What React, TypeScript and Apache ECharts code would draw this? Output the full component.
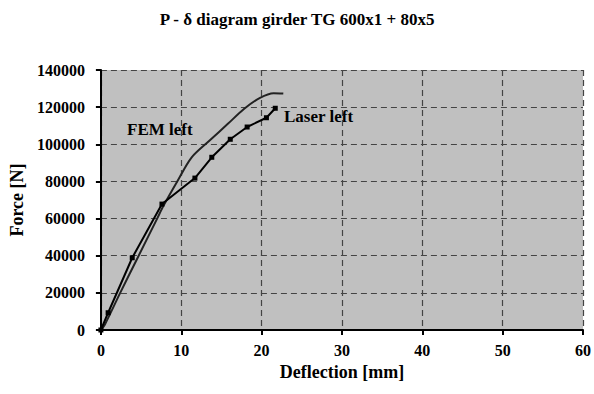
import React, { useEffect, useRef } from "react";
import * as echarts from "echarts";

const titleText = "P - \u03b4 diagram girder TG 600x1 + 80x5";
const xAxisName = "Deflection [mm]";
const yAxisName = "Force [N]";

const laserX = [0, 0.9, 3.9, 7.6, 11.7, 13.8, 16.1, 18.2, 20.6, 21.7];
const laserY = [0, 9300, 38900, 67800, 81800, 93000, 102700, 109300, 114300, 119400];

const femX = [0, 0.5, 2.4, 4.7, 7.0, 7.8, 9.5, 11.3, 13.6, 15.8, 17.8, 19.8, 21.5, 22.7];
const femY = [0, 3000, 20000, 40000, 60000, 67000, 80000, 93000, 102300, 111000, 119000, 125000, 127500, 127300];

const FONT = "'Liberation Serif', 'Times New Roman', serif";

export default function App() {
  const ref = useRef<HTMLDivElement>(null);
  useEffect(() => {
    const chart = echarts.init(ref.current!, null, { renderer: "svg" });
    const labelStyle = { fontFamily: FONT, fontWeight: "bold", fontSize: 16, color: "#000" };
    const nameStyle = { ...labelStyle, fontSize: 18 };
    chart.setOption({
      animation: false,
      backgroundColor: "#fff",
      title: {
        text: titleText,
        left: "center",
        top: 6,
        textStyle: { ...labelStyle, fontSize: 17 },
      },
      grid: {
        left: 100,
        right: 11,
        top: 70,
        bottom: 64,
        show: true,
        backgroundColor: "#c0c0c0",
        borderWidth: 0,
      },
      xAxis: {
        type: "value",
        min: 0,
        max: 60,
        interval: 10,
        name: xAxisName,
        nameLocation: "middle",
        nameGap: 27,
        nameTextStyle: nameStyle,
        axisLine: { lineStyle: { color: "#000", width: 2 } },
        axisTick: { show: true, length: 5, lineStyle: { color: "#000", width: 2 } },
        axisLabel: { ...labelStyle, margin: 12 },
        splitLine: { show: true, lineStyle: { color: "#444", type: [6, 4], width: 1.2 } },
      },
      yAxis: {
        type: "value",
        min: 0,
        max: 140000,
        interval: 20000,
        name: yAxisName,
        nameLocation: "middle",
        nameGap: 72,
        nameRotate: 90,
        nameTextStyle: nameStyle,
        axisLine: { show: true, lineStyle: { color: "#000", width: 2 } },
        axisTick: { show: true, length: 5, lineStyle: { color: "#000", width: 2 } },
        axisLabel: { ...labelStyle, margin: 16, formatter: (v: number) => String(v) },
        splitLine: { show: true, lineStyle: { color: "#444", type: [6, 4], width: 1.2 } },
      },
      series: [
        {
          name: "FEM left",
          type: "line",
          data: femX.map((x, i) => [x, femY[i]]),
          smooth: 0.3,
          showSymbol: false,
          symbol: "none",
          lineStyle: { color: "#222", width: 2 },
        },
        {
          name: "Laser left",
          type: "line",
          data: laserX.map((x, i) => [x, laserY[i]]),
          symbol: "rect",
          symbolSize: 5,
          itemStyle: { color: "#000" },
          lineStyle: { color: "#000", width: 2 },
        },
      ],
      graphic: [
        {
          type: "text",
          left: 127,
          top: 121,
          style: { text: "FEM left", font: `bold 17px ${FONT}`, fill: "#000" },
        },
        {
          type: "text",
          left: 284,
          top: 108,
          style: { text: "Laser left", font: `bold 17px ${FONT}`, fill: "#000" },
        },
      ],
    });
    return () => chart.dispose();
  }, []);
  return <div ref={ref} style={{ width: 594, height: 394, position: "absolute", left: 0, top: 0 }} />;
}
